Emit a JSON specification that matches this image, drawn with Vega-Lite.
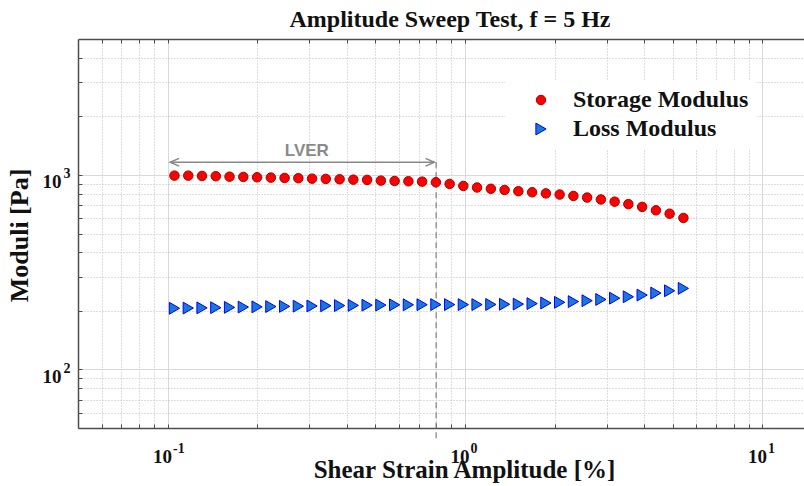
{
  "$schema": "https://vega.github.io/schema/vega-lite/v6.json",
  "autosize": "none",
  "width": 726,
  "height": 389,
  "padding": {"left": 78, "top": 39, "right": 0, "bottom": 58},
  "background": "white",
  "config": {"view": {"stroke": null}},
  "title": {"text": "Amplitude Sweep Test, f = 5 Hz", "font": "Liberation Serif", "fontSize": 24, "fontWeight": "bold", "color": "#111111", "anchor": "middle", "baseline": "alphabetic", "offset": 11, "dx": 9, "dy": 23},
  "datasets": {
    "moduli": [
      {"s": 0.1055, "m": 992, "series": "Storage Modulus"},
      {"s": 0.1174, "m": 992, "series": "Storage Modulus"},
      {"s": 0.1306, "m": 988, "series": "Storage Modulus"},
      {"s": 0.1453, "m": 985, "series": "Storage Modulus"},
      {"s": 0.1616, "m": 980, "series": "Storage Modulus"},
      {"s": 0.1798, "m": 977, "series": "Storage Modulus"},
      {"s": 0.2000, "m": 973, "series": "Storage Modulus"},
      {"s": 0.2225, "m": 969, "series": "Storage Modulus"},
      {"s": 0.2475, "m": 965, "series": "Storage Modulus"},
      {"s": 0.2753, "m": 962, "series": "Storage Modulus"},
      {"s": 0.3062, "m": 957, "series": "Storage Modulus"},
      {"s": 0.3405, "m": 954, "series": "Storage Modulus"},
      {"s": 0.3789, "m": 950, "series": "Storage Modulus"},
      {"s": 0.4214, "m": 946, "series": "Storage Modulus"},
      {"s": 0.4688, "m": 943, "series": "Storage Modulus"},
      {"s": 0.5215, "m": 935, "series": "Storage Modulus"},
      {"s": 0.5801, "m": 931, "series": "Storage Modulus"},
      {"s": 0.6453, "m": 928, "series": "Storage Modulus"},
      {"s": 0.7177, "m": 924, "series": "Storage Modulus"},
      {"s": 0.7984, "m": 917, "series": "Storage Modulus"},
      {"s": 0.8881, "m": 899, "series": "Storage Modulus"},
      {"s": 0.9874, "m": 878, "series": "Storage Modulus"},
      {"s": 1.098, "m": 862, "series": "Storage Modulus"},
      {"s": 1.222, "m": 849, "series": "Storage Modulus"},
      {"s": 1.359, "m": 837, "series": "Storage Modulus"},
      {"s": 1.512, "m": 825, "series": "Storage Modulus"},
      {"s": 1.682, "m": 815, "series": "Storage Modulus"},
      {"s": 1.871, "m": 804, "series": "Storage Modulus"},
      {"s": 2.081, "m": 793, "series": "Storage Modulus"},
      {"s": 2.315, "m": 780, "series": "Storage Modulus"},
      {"s": 2.575, "m": 765, "series": "Storage Modulus"},
      {"s": 2.864, "m": 748, "series": "Storage Modulus"},
      {"s": 3.186, "m": 729, "series": "Storage Modulus"},
      {"s": 3.543, "m": 708, "series": "Storage Modulus"},
      {"s": 3.942, "m": 685, "series": "Storage Modulus"},
      {"s": 4.385, "m": 658, "series": "Storage Modulus"},
      {"s": 4.876, "m": 632, "series": "Storage Modulus"},
      {"s": 5.425, "m": 601, "series": "Storage Modulus"},
      {"s": 0.1055, "m": 206.3, "series": "Loss Modulus"},
      {"s": 0.1174, "m": 206.8, "series": "Loss Modulus"},
      {"s": 0.1306, "m": 207.3, "series": "Loss Modulus"},
      {"s": 0.1453, "m": 207.8, "series": "Loss Modulus"},
      {"s": 0.1616, "m": 208.5, "series": "Loss Modulus"},
      {"s": 0.1798, "m": 209.3, "series": "Loss Modulus"},
      {"s": 0.2000, "m": 209.8, "series": "Loss Modulus"},
      {"s": 0.2225, "m": 210.5, "series": "Loss Modulus"},
      {"s": 0.2475, "m": 211.0, "series": "Loss Modulus"},
      {"s": 0.2753, "m": 211.5, "series": "Loss Modulus"},
      {"s": 0.3062, "m": 212.0, "series": "Loss Modulus"},
      {"s": 0.3405, "m": 212.5, "series": "Loss Modulus"},
      {"s": 0.3789, "m": 213.0, "series": "Loss Modulus"},
      {"s": 0.4214, "m": 213.5, "series": "Loss Modulus"},
      {"s": 0.4688, "m": 214.0, "series": "Loss Modulus"},
      {"s": 0.5215, "m": 214.2, "series": "Loss Modulus"},
      {"s": 0.5801, "m": 214.8, "series": "Loss Modulus"},
      {"s": 0.6453, "m": 215.0, "series": "Loss Modulus"},
      {"s": 0.7177, "m": 215.3, "series": "Loss Modulus"},
      {"s": 0.7984, "m": 215.5, "series": "Loss Modulus"},
      {"s": 0.8881, "m": 215.5, "series": "Loss Modulus"},
      {"s": 0.9874, "m": 215.5, "series": "Loss Modulus"},
      {"s": 1.098, "m": 215.5, "series": "Loss Modulus"},
      {"s": 1.222, "m": 215.8, "series": "Loss Modulus"},
      {"s": 1.359, "m": 216.3, "series": "Loss Modulus"},
      {"s": 1.512, "m": 216.8, "series": "Loss Modulus"},
      {"s": 1.682, "m": 218.1, "series": "Loss Modulus"},
      {"s": 1.871, "m": 219.6, "series": "Loss Modulus"},
      {"s": 2.081, "m": 221.4, "series": "Loss Modulus"},
      {"s": 2.315, "m": 223.3, "series": "Loss Modulus"},
      {"s": 2.575, "m": 225.7, "series": "Loss Modulus"},
      {"s": 2.864, "m": 229.0, "series": "Loss Modulus"},
      {"s": 3.186, "m": 232.5, "series": "Loss Modulus"},
      {"s": 3.543, "m": 236.4, "series": "Loss Modulus"},
      {"s": 3.942, "m": 241.2, "series": "Loss Modulus"},
      {"s": 4.385, "m": 247.0, "series": "Loss Modulus"},
      {"s": 4.876, "m": 253.8, "series": "Loss Modulus"},
      {"s": 5.425, "m": 261.1, "series": "Loss Modulus"}
    ],
    "lverLine": [{"x": 0.8, "y": 1162, "y2": 44}],
    "lverArrow": [{"x": 0.102, "x2": 0.79, "y": 1162}],
    "arrowLeft": [{"x": 0.102, "y": 1162}],
    "arrowRight": [{"x": 0.79, "y": 1162}],
    "lverText": [{"x": 0.294, "y": 1329, "t": "LVER"}]
  },
  "resolve": {"axis": {"x": "independent", "y": "independent"}},
  "layer": [
    {
      "data": {"name": "lverLine"},
      "mark": {"type": "rule", "color": "#7f7f7f", "strokeWidth": 1.2, "strokeDash": [6, 4]},
      "encoding": {
        "x": {"field": "x", "type": "quantitative", "scale": {"type": "log", "domain": [0.05, 13.8], "nice": false}, "axis": null},
        "y": {"field": "y", "type": "quantitative", "scale": {"type": "log", "domain": [50, 5000], "nice": false},
          "axis": {"orient": "left", "values": [100, 1000], "labelExpr": "datum.value == 100 ? '2' : '3'", "grid": false, "domain": false, "ticks": true, "tickSize": -4, "tickOpacity": 0, "labelFont": "Liberation Serif", "labelFontSize": 14, "labelFontWeight": "bold", "labelColor": "#111111", "labelAlign": "right", "labelBaseline": "middle", "labelPadding": 12, "labelOffset": -1, "labelOverlap": false, "labelBound": false, "labelFlush": false, "title": null}},
        "y2": {"field": "y2"}
      }
    },
    {
      "data": {"name": "lverArrow"},
      "mark": {"type": "rule", "color": "#888888", "strokeWidth": 1.5},
      "encoding": {
        "x": {"field": "x", "type": "quantitative", "scale": {"type": "log", "domain": [0.05, 13.8], "nice": false},
          "axis": {"orient": "top", "values": [0.06, 0.07, 0.08, 0.09, 0.1, 0.2, 0.3, 0.4, 0.5, 0.6, 0.7, 0.8, 0.9, 1, 2, 3, 4, 5, 6, 7, 8, 9, 10], "labels": false, "grid": false, "title": null, "domainColor": "#4d4d4d", "domainWidth": 1.5, "tickColor": "#4d4d4d", "tickSize": -4, "tickWidth": 1}},
        "x2": {"field": "x2"},
        "y": {"field": "y", "type": "quantitative", "scale": {"type": "log", "domain": [50, 5000], "nice": false}, "axis": null}
      }
    },
    {
      "data": {"name": "arrowLeft"},
      "mark": {"type": "point", "shape": "M1,-0.43L0,0L1,0.43", "size": 324, "filled": false, "stroke": "#888888", "strokeWidth": 1.5, "opacity": 1},
      "encoding": {
        "x": {"field": "x", "type": "quantitative", "scale": {"type": "log", "domain": [0.05, 13.8], "nice": false},
          "axis": {"orient": "bottom", "values": [0.1, 1, 10], "labelExpr": "datum.value == 0.1 ? '-1' : datum.value == 1 ? '0' : '1'", "grid": false, "domain": false, "ticks": true, "tickSize": -4, "tickOpacity": 0, "labelFont": "Liberation Serif", "labelFontSize": 14, "labelFontWeight": "bold", "labelColor": "#111111", "labelAlign": "left", "labelBaseline": "top", "labelPadding": 17, "labelOffset": 5, "labelOverlap": false, "labelBound": false, "labelFlush": false, "title": null}},
        "y": {"field": "y", "type": "quantitative", "scale": {"type": "log", "domain": [50, 5000], "nice": false}, "axis": null}
      }
    },
    {
      "data": {"name": "arrowRight"},
      "mark": {"type": "point", "shape": "M-1,-0.43L0,0L-1,0.43", "size": 324, "filled": false, "stroke": "#888888", "strokeWidth": 1.5, "opacity": 1},
      "encoding": {
        "x": {"field": "x", "type": "quantitative", "scale": {"type": "log", "domain": [0.05, 13.8], "nice": false}, "axis": null},
        "y": {"field": "y", "type": "quantitative", "scale": {"type": "log", "domain": [50, 5000], "nice": false}, "axis": null}
      }
    },
    {
      "data": {"name": "lverText"},
      "mark": {"type": "text", "font": "Liberation Sans", "fontSize": 17, "fontWeight": "bold", "color": "#8a8a8a", "align": "center", "baseline": "middle"},
      "encoding": {
        "x": {"field": "x", "type": "quantitative", "scale": {"type": "log", "domain": [0.05, 13.8], "nice": false}, "axis": null},
        "y": {"field": "y", "type": "quantitative", "scale": {"type": "log", "domain": [50, 5000], "nice": false}, "axis": null},
        "text": {"field": "t"}
      }
    },
    {
      "data": {"name": "moduli"},
      "mark": {"type": "point", "filled": true, "opacity": 1, "strokeWidth": 1},
      "encoding": {
        "x": {"field": "s", "type": "quantitative", "scale": {"type": "log", "domain": [0.05, 13.8], "nice": false},
          "axis": {
            "orient": "bottom",
            "values": [0.06, 0.07, 0.08, 0.09, 0.1, 0.2, 0.3, 0.4, 0.5, 0.6, 0.7, 0.8, 0.9, 1, 2, 3, 4, 5, 6, 7, 8, 9, 10],
            "labelExpr": "indexof([0.1, 1, 10], datum.value) >= 0 ? '10' : ''",
            "grid": true,
            "gridColor": {"condition": {"test": "indexof([0.1, 1, 10], datum.value) >= 0", "value": "#d9d9d9"}, "value": "#bdbdbd"},
            "gridDash": {"condition": {"test": "indexof([0.1, 1, 10], datum.value) >= 0", "value": []}, "value": [1, 2]},
            "gridWidth": 1,
            "domainColor": "#4d4d4d", "domainWidth": 1.5,
            "tickColor": "#4d4d4d", "tickSize": -4, "tickWidth": 1,
            "labelFont": "Liberation Serif", "labelFontSize": 19, "labelFontWeight": "bold", "labelColor": "#111111",
            "labelAlign": "right", "labelOffset": 4,
            "labelBaseline": "top", "labelPadding": 23,
            "labelOverlap": false, "labelBound": false, "labelFlush": false,
            "title": "Shear Strain Amplitude [%]",
            "titleFont": "Liberation Serif", "titleFontSize": 25, "titleFontWeight": "bold", "titleColor": "#111111",
            "titleX": 386, "titleY": 49, "titleAlign": "center", "titleBaseline": "alphabetic"
          }},
        "y": {"field": "m", "type": "quantitative", "scale": {"type": "log", "domain": [50, 5000], "nice": false},
          "axis": {
            "orient": "left",
            "values": [60, 70, 80, 90, 100, 200, 300, 400, 500, 600, 700, 800, 900, 1000, 2000, 3000, 4000],
            "labelExpr": "indexof([100, 1000], datum.value) >= 0 ? '10' : ''",
            "grid": true,
            "gridColor": {"condition": {"test": "indexof([100, 1000], datum.value) >= 0", "value": "#d9d9d9"}, "value": "#bdbdbd"},
            "gridDash": {"condition": {"test": "indexof([100, 1000], datum.value) >= 0", "value": []}, "value": [1, 2]},
            "gridWidth": 1,
            "domainColor": "#4d4d4d", "domainWidth": 1.5,
            "tickColor": "#4d4d4d", "tickSize": -4, "tickWidth": 1,
            "labelFont": "Liberation Serif", "labelFontSize": 19, "labelFontWeight": "bold", "labelColor": "#111111",
            "labelAlign": "right", "labelBaseline": "middle", "labelPadding": 21, "labelOffset": 7,
            "labelOverlap": false, "labelBound": false, "labelFlush": false,
            "title": "Moduli [Pa]",
            "titleFont": "Liberation Serif", "titleFontSize": 26, "titleFontWeight": "bold", "titleColor": "#111111",
            "titleX": -51, "titleY": 196, "titleAngle": 270, "titleAlign": "center", "titleBaseline": "alphabetic"
          }},
        "fill": {"field": "series", "type": "nominal",
          "scale": {"domain": ["Storage Modulus", "Loss Modulus"], "range": ["#ff0000", "#1a78d6"]},
          "legend": {"title": null, "orient": "none", "legendX": 427, "legendY": 41, "fillColor": "white", "padding": 8, "symbolOffset": 16, "rowPadding": 5, "labelOffset": 20, "labelLimit": 400, "labelFont": "Liberation Serif", "labelFontSize": 24, "labelFontWeight": "bold", "labelColor": "#111111", "symbolStrokeWidth": 1}},
        "stroke": {"field": "series", "type": "nominal",
          "scale": {"domain": ["Storage Modulus", "Loss Modulus"], "range": ["#a80000", "#0000ff"]},
          "legend": {"title": null, "orient": "none", "legendX": 427, "legendY": 41, "fillColor": "white", "padding": 8, "symbolOffset": 16, "rowPadding": 5, "labelOffset": 20, "labelLimit": 400, "labelFont": "Liberation Serif", "labelFontSize": 24, "labelFontWeight": "bold", "labelColor": "#111111", "symbolStrokeWidth": 1}},
        "shape": {"field": "series", "type": "nominal",
          "scale": {"domain": ["Storage Modulus", "Loss Modulus"], "range": ["circle", "triangle-right"]},
          "legend": {"title": null, "orient": "none", "legendX": 427, "legendY": 41, "fillColor": "white", "padding": 8, "symbolOffset": 16, "rowPadding": 5, "labelOffset": 20, "labelLimit": 400, "labelFont": "Liberation Serif", "labelFontSize": 24, "labelFontWeight": "bold", "labelColor": "#111111", "symbolStrokeWidth": 1}},
        "size": {"field": "series", "type": "nominal",
          "scale": {"domain": ["Storage Modulus", "Loss Modulus"], "range": [90, 140]},
          "legend": {"title": null, "orient": "none", "legendX": 427, "legendY": 41, "fillColor": "white", "padding": 8, "symbolOffset": 16, "rowPadding": 5, "labelOffset": 20, "labelLimit": 400, "labelFont": "Liberation Serif", "labelFontSize": 24, "labelFontWeight": "bold", "labelColor": "#111111", "symbolStrokeWidth": 1}}
      }
    }
  ]
}
